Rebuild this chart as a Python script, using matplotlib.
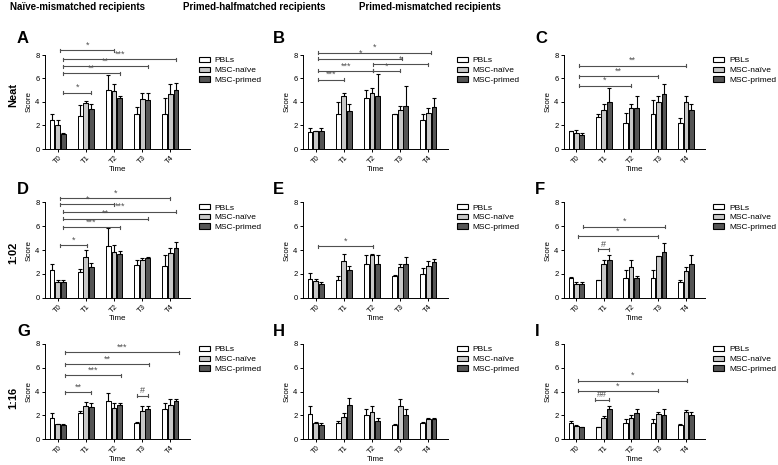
import matplotlib
matplotlib.use("Agg")
import matplotlib.pyplot as plt
import numpy as np

plt.rcParams['font.family'] = ['Liberation Sans', 'DejaVu Sans']

# ---------------- data ----------------
timepoints = ["T0", "T1", "T2", "T3", "T4"]
series_names = ["PBLs", "MSC-naïve", "MSC-primed"]
series_colors = ["#ffffff", "#c8c8c8", "#555555"]
panel_letters = ["A", "B", "C", "D", "E", "F", "G", "H", "I"]
col_titles = ["Naïve-mismatched recipients", "Primed-halfmatched recipients", "Primed-mismatched recipients"]
row_labels = ["Neat", "1:02", "1:16"]
yticks = [0, 2, 4, 6, 8]

# means [PBLs, MSC-naive, MSC-primed] and SEM per panel
A_mean = [[2.45, 2.85, 5.0, 2.95, 3.0], [2.05, 3.9, 4.9, 4.25, 4.7], [1.25, 3.4, 4.3, 4.15, 5.05]]
A_sem = [[0.5, 0.9, 1.3, 0.65, 1.3], [0.45, 0.2, 0.6, 0.5, 0.85], [0.1, 0.4, 0.25, 0.65, 0.55]]
B_mean = [[1.45, 3.0, 4.35, 3.0, 2.5], [1.5, 4.5, 4.8, 3.35, 3.1], [1.5, 3.2, 4.5, 3.7, 3.55]]
B_sem = [[0.3, 1.0, 0.65, 0.0, 0.5], [0.05, 0.3, 0.35, 0.35, 0.35], [0.3, 0.6, 1.9, 1.65, 0.75]]
C_mean = [[1.5, 2.7, 2.2, 3.0, 2.2], [1.4, 3.35, 3.5, 4.0, 4.0], [1.15, 4.0, 3.5, 4.7, 3.35]]
C_sem = [[0.0, 0.3, 0.9, 1.15, 0.4], [0.2, 0.45, 0.3, 0.5, 0.5], [0.2, 1.15, 1.05, 0.85, 0.45]]
D_mean = [[2.35, 2.15, 4.3, 2.75, 2.65], [1.35, 3.45, 3.85, 3.15, 3.75], [1.35, 2.6, 3.7, 3.3, 4.2]]
D_sem = [[0.45, 0.3, 1.5, 0.45, 0.9], [0.15, 0.55, 0.55, 0.2, 0.45], [0.15, 0.35, 0.25, 0.15, 0.5]]
E_mean = [[1.6, 1.5, 2.85, 1.85, 2.0], [1.45, 3.1, 3.6, 2.6, 2.7], [1.2, 2.35, 2.85, 2.85, 3.0]]
E_sem = [[0.45, 0.3, 0.7, 0.1, 0.5], [0.15, 0.55, 0.05, 0.2, 0.4], [0.15, 0.3, 0.7, 0.6, 0.25]]
F_mean = [[1.7, 1.5, 1.7, 1.7, 1.35], [1.2, 2.8, 2.6, 3.5, 2.25], [1.2, 3.2, 1.7, 3.85, 2.85]]
F_sem = [[0.05, 0.0, 0.65, 0.65, 0.15], [0.15, 0.35, 0.6, 0.0, 0.3], [0.15, 0.4, 0.1, 0.7, 0.7]]
G_mean = [[1.8, 2.2, 3.2, 1.35, 2.5], [1.25, 2.75, 2.65, 2.4, 2.9], [1.2, 2.7, 2.9, 2.55, 3.2]]
G_sem = [[0.35, 0.15, 0.7, 0.05, 0.5], [0.05, 0.4, 0.35, 0.35, 0.45], [0.1, 0.35, 0.1, 0.2, 0.2]]
H_mean = [[2.1, 1.35, 2.05, 1.2, 1.35], [1.35, 1.85, 2.3, 2.8, 1.65], [1.2, 2.85, 1.5, 2.0, 1.7]]
H_sem = [[0.7, 0.15, 0.5, 0.1, 0.1], [0.1, 0.3, 0.45, 0.6, 0.15], [0.15, 0.6, 0.3, 0.5, 0.1]]
I_mean = [[1.35, 1.0, 1.35, 1.35, 1.2], [1.1, 1.75, 1.75, 2.1, 2.3], [1.0, 2.5, 2.2, 2.0, 2.0]]
I_sem = [[0.2, 0.0, 0.3, 0.3, 0.1], [0.05, 0.15, 0.25, 0.2, 0.15], [0.0, 0.3, 0.3, 0.5, 0.3]]

# significance brackets: (start position, end position, height, label)
A_sig = [(0.1, 2.0, 8.4, "*"), (0.2, 4.2, 7.65, "***"), (0.2, 3.2, 7.05, "**"), (0.2, 2.2, 6.45, "**"), (0.2, 1.2, 4.8, "*")]
B_sig = [(0.1, 4.1, 8.2, "*"), (0.1, 3.07, 7.7, "*"), (2.05, 4.0, 7.2, "*"), (0.1, 2.05, 6.65, "***"), (2.05, 3.0, 6.65, "*"), (0.1, 1.0, 5.9, "***")]
C_sig = [(0.1, 4.0, 7.1, "**"), (0.1, 3.0, 6.2, "**"), (0.1, 2.0, 5.4, "*")]
D_sig = [(0.1, 4.0, 8.3, "*"), (0.1, 2.0, 7.8, "*"), (0.2, 4.2, 7.2, "***"), (0.2, 3.2, 6.6, "**"), (0.2, 2.2, 5.9, "***"), (0.1, 1.05, 4.4, "*")]
E_sig = [(0.1, 2.05, 4.3, "*")]
F_sig = [(0.25, 3.25, 5.95, "*"), (0.05, 3.0, 5.15, "*"), (0.8, 1.2, 4.05, "#")]
G_sig = [(0.25, 4.3, 7.3, "***"), (0.25, 3.25, 6.3, "**"), (0.25, 2.25, 5.35, "***"), (0.25, 1.2, 3.95, "**"), (2.8, 3.2, 3.65, "#")]
H_sig = []
I_sig = [(0.05, 4.05, 4.9, "*"), (0.05, 3.0, 4.05, "*"), (0.7, 1.2, 3.3, "##")]

panels = [(A_mean, A_sem, A_sig), (B_mean, B_sem, B_sig), (C_mean, C_sem, C_sig),
          (D_mean, D_sem, D_sig), (E_mean, E_sem, E_sig), (F_mean, F_sem, F_sig),
          (G_mean, G_sem, G_sig), (H_mean, H_sem, H_sig), (I_mean, I_sem, I_sig)]

# ---------------- layout ----------------
W, H = 778, 465
fig = plt.figure(figsize=(W / 100, H / 100), dpi=100)
col_left = [45, 303, 564]
col_width = [145, 145, 141]
row_top = [55, 202, 344]
row_bottom = [149, 298, 439]
letter_x = [17, 273, 535]
letter_y = [31, 182, 324]
title_x = [78, 254, 430]
rowlab_y = [95, 253, 398]

bar_w = 0.17
offsets = [-0.2, 0.0, 0.2]
x = np.arange(len(timepoints))
tick_fs = 5.5
bracket_color = "#505050"

for idx, (means, sems, sigs) in enumerate(panels):
    r, c = divmod(idx, 3)
    l = col_left[c] / W
    b = 1 - row_bottom[r] / H
    w = col_width[c] / W
    h = (row_bottom[r] - row_top[r]) / H
    ax = fig.add_axes([l, b, w, h])
    for s in range(3):
        ax.bar(x + offsets[s], means[s], width=bar_w, color=series_colors[s],
               edgecolor="black", linewidth=0.7, label=series_names[s], zorder=2)
        ax.errorbar(x + offsets[s], means[s], yerr=[np.zeros(len(x)), sems[s]],
                    fmt="none", ecolor="black", elinewidth=0.8, capsize=1.6,
                    capthick=0.8, zorder=3)
    ax.set_xlim(-0.45, 4.7)
    ax.set_ylim(0, 8)
    ax.set_yticks(yticks)
    ax.set_xticks(x)
    ax.set_xticklabels(timepoints, rotation=45, ha="center", fontsize=tick_fs)
    ax.tick_params(axis="y", labelsize=tick_fs, length=2.5, width=0.7, pad=1.5)
    ax.tick_params(axis="x", length=2.5, width=0.7, pad=1)
    for sp in ["top", "right"]:
        ax.spines[sp].set_visible(False)
    for sp in ["left", "bottom"]:
        ax.spines[sp].set_linewidth(0.7)
    ax.set_ylabel("Score", fontsize=5.8, labelpad=2)
    ax.set_xlabel("Time", fontsize=5.8, labelpad=1)

    tk = 0.13
    for (x1, x2, yv, lab) in sigs:
        ax.plot([x1, x2], [yv, yv], color=bracket_color, lw=0.8, clip_on=False, zorder=4)
        ax.plot([x1, x1], [yv - tk, yv + tk], color=bracket_color, lw=0.8, clip_on=False, zorder=4)
        ax.plot([x2, x2], [yv - tk, yv + tk], color=bracket_color, lw=0.8, clip_on=False, zorder=4)
        ax.text((x1 + x2) / 2, yv + 0.05, lab, ha="center", va="bottom", fontsize=6.5,
                color=bracket_color, clip_on=False)

    leg = ax.legend(loc="upper left", bbox_to_anchor=(1.06, 0.98), frameon=False,
                    fontsize=6, handlelength=1.3, handleheight=0.6, handletextpad=0.6,
                    labelspacing=0.25, borderpad=0, borderaxespad=0)
    for hdl in leg.legend_handles:
        hdl.set_linewidth(0.8)

    fig.text(letter_x[c] / W, 1 - letter_y[r] / H, panel_letters[idx], fontsize=12,
             fontweight="bold", ha="left", va="top")

for c in range(3):
    fig.text(title_x[c] / W, 1 - 7 / H, col_titles[c], fontsize=7, fontweight="bold",
             ha="center", va="center")
for r in range(3):
    fig.text(13 / W, 1 - rowlab_y[r] / H, row_labels[r], fontsize=8, fontweight="bold",
             rotation=90, ha="center", va="center")

fig.savefig("out.png", dpi=100)
